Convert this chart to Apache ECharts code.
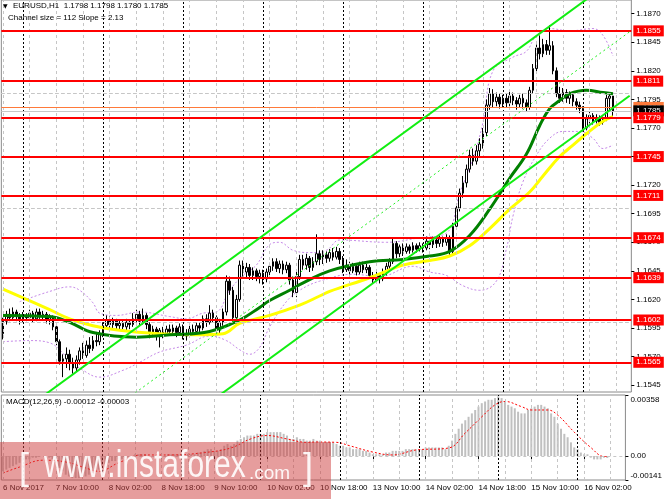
<!DOCTYPE html>
<html><head><meta charset="utf-8">
<script src="https://cdn.jsdelivr.net/npm/echarts@6/dist/echarts.min.js"></script>
<style>html,body{margin:0;padding:0;background:#fff}#c{width:665px;height:499px}</style>
</head><body><div id="c"></div><script>
// ---- data ----
// candles: [open, close, low, high], one per H1 bar, index 0 = 6 Nov 18:00
const candles = [
[1.1590,1.1601,1.1585,1.1604],[1.1601,1.1607,1.1598,1.1610],[1.1607,1.1604,1.1601,1.1612],[1.1604,1.1609,1.1602,1.1613],
[1.1609,1.1605,1.1601,1.1611],[1.1605,1.1603,1.1598,1.1608],[1.1603,1.1606,1.1600,1.1609],[1.1606,1.1604,1.1601,1.1608],
[1.1604,1.1608,1.1602,1.1611],[1.1608,1.1603,1.1600,1.1610],[1.1603,1.1609,1.1601,1.1612],[1.1609,1.1606,1.1603,1.1612],
[1.1606,1.1607,1.1602,1.1610],[1.1607,1.1602,1.1599,1.1609],[1.1602,1.1604,1.1598,1.1607],[1.1604,1.1596,1.1593,1.1606],
[1.1596,1.1583,1.1580,1.1599],[1.1583,1.1566,1.1563,1.1585],[1.1566,1.1568,1.1552,1.1572],[1.1568,1.1572,1.1560,1.1578],
[1.1572,1.1564,1.1558,1.1576],[1.1564,1.1560,1.1555,1.1569],[1.1560,1.1567,1.1557,1.1571],[1.1567,1.1575,1.1563,1.1578],
[1.1575,1.1571,1.1568,1.1582],[1.1571,1.1580,1.1569,1.1584],[1.1580,1.1577,1.1573,1.1587],[1.1577,1.1584,1.1575,1.1588],
[1.1584,1.1583,1.1579,1.1590],[1.1583,1.1590,1.1580,1.1593],[1.1590,1.1597,1.1587,1.1600],[1.1597,1.1602,1.1594,1.1606],
[1.1602,1.1598,1.1594,1.1605],[1.1598,1.1601,1.1595,1.1604],[1.1601,1.1597,1.1593,1.1603],[1.1597,1.1599,1.1594,1.1602],
[1.1599,1.1596,1.1592,1.1601],[1.1596,1.1600,1.1593,1.1603],[1.1600,1.1598,1.1594,1.1602],[1.1598,1.1603,1.1596,1.1608],
[1.1603,1.1607,1.1599,1.1611],[1.1607,1.1601,1.1597,1.1610],[1.1601,1.1606,1.1598,1.1612],[1.1606,1.1598,1.1594,1.1608],
[1.1598,1.1590,1.1586,1.1600],[1.1590,1.1594,1.1587,1.1597],[1.1594,1.1589,1.1584,1.1596],[1.1589,1.1593,1.1578,1.1595],
[1.1593,1.1590,1.1586,1.1596],[1.1590,1.1594,1.1588,1.1597],[1.1594,1.1592,1.1588,1.1598],[1.1592,1.1595,1.1589,1.1598],
[1.1595,1.1591,1.1587,1.1597],[1.1591,1.1596,1.1589,1.1599],[1.1596,1.1588,1.1585,1.1598],[1.1588,1.1590,1.1584,1.1594],
[1.1590,1.1594,1.1587,1.1597],[1.1594,1.1592,1.1588,1.1598],[1.1592,1.1597,1.1590,1.1600],[1.1597,1.1595,1.1590,1.1600],
[1.1595,1.1603,1.1593,1.1606],[1.1603,1.1600,1.1596,1.1607],[1.1600,1.1608,1.1598,1.1615],[1.1608,1.1604,1.1600,1.1611],
[1.1604,1.1594,1.1591,1.1606],[1.1594,1.1600,1.1590,1.1603],[1.1600,1.1609,1.1597,1.1612],[1.1609,1.1636,1.1606,1.1641],
[1.1636,1.1628,1.1624,1.1640],[1.1628,1.1604,1.1600,1.1631],[1.1604,1.1620,1.1599,1.1624],[1.1620,1.1650,1.1618,1.1654],
[1.1650,1.1644,1.1640,1.1654],[1.1644,1.1648,1.1639,1.1652],[1.1648,1.1641,1.1637,1.1651],[1.1641,1.1645,1.1637,1.1648],
[1.1645,1.1640,1.1636,1.1647],[1.1640,1.1643,1.1634,1.1646],[1.1643,1.1638,1.1633,1.1646],[1.1638,1.1644,1.1635,1.1647],
[1.1644,1.1649,1.1641,1.1652],[1.1649,1.1653,1.1645,1.1656],[1.1653,1.1647,1.1644,1.1656],[1.1647,1.1651,1.1643,1.1654],
[1.1651,1.1646,1.1642,1.1654],[1.1646,1.1650,1.1643,1.1653],[1.1650,1.1637,1.1633,1.1652],[1.1637,1.1626,1.1622,1.1640],
[1.1626,1.1640,1.1622,1.1644],[1.1640,1.1655,1.1637,1.1659],[1.1655,1.1650,1.1646,1.1659],[1.1650,1.1656,1.1646,1.1660],
[1.1656,1.1648,1.1644,1.1658],[1.1648,1.1653,1.1645,1.1657],[1.1653,1.1660,1.1650,1.1677],[1.1660,1.1655,1.1650,1.1663],
[1.1655,1.1659,1.1651,1.1663],[1.1659,1.1656,1.1652,1.1662],[1.1656,1.1661,1.1653,1.1664],[1.1661,1.1657,1.1654,1.1665],
[1.1657,1.1662,1.1655,1.1666],[1.1662,1.1655,1.1651,1.1665],[1.1655,1.1646,1.1643,1.1658],[1.1646,1.1650,1.1644,1.1655],
[1.1650,1.1645,1.1642,1.1653],[1.1645,1.1649,1.1643,1.1652],[1.1649,1.1644,1.1641,1.1651],[1.1644,1.1650,1.1642,1.1653],
[1.1650,1.1646,1.1643,1.1653],[1.1646,1.1648,1.1643,1.1651],[1.1648,1.1641,1.1638,1.1650],[1.1641,1.1637,1.1634,1.1644],
[1.1637,1.1641,1.1635,1.1645],[1.1641,1.1638,1.1634,1.1643],[1.1638,1.1644,1.1636,1.1647],[1.1644,1.1649,1.1641,1.1652],
[1.1649,1.1653,1.1646,1.1656],[1.1653,1.1669,1.1651,1.1674],[1.1669,1.1660,1.1656,1.1671],[1.1660,1.1666,1.1657,1.1668],
[1.1666,1.1662,1.1658,1.1669],[1.1662,1.1666,1.1660,1.1669],[1.1666,1.1663,1.1660,1.1668],[1.1663,1.1667,1.1661,1.1670],
[1.1667,1.1664,1.1661,1.1669],[1.1664,1.1667,1.1662,1.1670],[1.1667,1.1665,1.1661,1.1669],[1.1665,1.1671,1.1663,1.1675],
[1.1671,1.1668,1.1664,1.1674],[1.1668,1.1672,1.1665,1.1675],[1.1672,1.1669,1.1665,1.1674],[1.1669,1.1673,1.1666,1.1676],
[1.1673,1.1670,1.1666,1.1675],[1.1670,1.1674,1.1667,1.1677],[1.1674,1.1662,1.1659,1.1676],[1.1662,1.1684,1.1660,1.1687],
[1.1684,1.1700,1.1681,1.1703],[1.1700,1.1713,1.1697,1.1717],[1.1713,1.1722,1.1709,1.1728],[1.1722,1.1734,1.1718,1.1738],
[1.1734,1.1746,1.1731,1.1751],[1.1746,1.1741,1.1737,1.1752],[1.1741,1.1750,1.1738,1.1755],[1.1750,1.1756,1.1745,1.1761],
[1.1756,1.1766,1.1752,1.1770],[1.1766,1.1790,1.1763,1.1795],[1.1790,1.1800,1.1786,1.1805],[1.1800,1.1793,1.1788,1.1804],
[1.1793,1.1797,1.1789,1.1801],[1.1797,1.1791,1.1787,1.1800],[1.1791,1.1796,1.1788,1.1799],[1.1796,1.1792,1.1788,1.1800],
[1.1792,1.1798,1.1789,1.1802],[1.1798,1.1794,1.1790,1.1801],[1.1794,1.1791,1.1786,1.1797],[1.1791,1.1796,1.1788,1.1799],
[1.1796,1.1792,1.1787,1.1800],[1.1792,1.1788,1.1784,1.1795],[1.1788,1.1803,1.1786,1.1806],[1.1803,1.1822,1.1800,1.1826],
[1.1822,1.1840,1.1818,1.1843],[1.1840,1.1835,1.1830,1.1851],[1.1835,1.1843,1.1832,1.1848],[1.1843,1.1838,1.1834,1.1847],
[1.1838,1.1842,1.1834,1.1860],[1.1842,1.1820,1.1817,1.1846],[1.1820,1.1800,1.1797,1.1823],[1.1800,1.1796,1.1792,1.1806],
[1.1796,1.1801,1.1793,1.1805],[1.1801,1.1796,1.1792,1.1804],[1.1796,1.1799,1.1791,1.1802],[1.1799,1.1793,1.1789,1.1801],
[1.1793,1.1790,1.1786,1.1796],[1.1790,1.1787,1.1783,1.1793],[1.1787,1.1770,1.1767,1.1789],[1.1770,1.1778,1.1768,1.1782],
[1.1778,1.1781,1.1774,1.1784],[1.1781,1.1776,1.1773,1.1783],[1.1776,1.1779,1.1774,1.1782],[1.1779,1.1775,1.1772,1.1781],
[1.1775,1.1778,1.1773,1.1780],[1.1778,1.1796,1.1776,1.1799],[1.1796,1.1798,1.1784,1.1800],[1.1798,1.1785,1.1780,1.1798]
];
// moving averages, sparse readings [barIndex, price]
const maGreen = [[0,1.1606],[14,1.1605],[20,1.1600],[27,1.1591],[40,1.1587],[50,1.1589],[62,1.1592],[71,1.1602],[77,1.1613],[80,1.1619],[86,1.1628],[89,1.1633],[98,1.1645],[110,1.1653],[120,1.1655],[128,1.1658],[134,1.1662],[140,1.1676],[146,1.1699],[152,1.1726],[157,1.1747],[161,1.1772],[164,1.1787],[167,1.1794],[170,1.1800],[175,1.1803],[180,1.1801],[183,1.1800]];
const maYellow = [[0,1.1629],[14,1.1611],[20,1.1603],[27,1.1597],[35,1.1593],[47,1.1590],[58,1.1589],[66,1.1590],[71,1.1599],[80,1.1606],[89,1.1615],[95,1.1623],[98,1.1627],[110,1.1639],[120,1.1650],[128,1.1654],[134,1.1658],[140,1.1667],[146,1.1682],[152,1.1699],[158,1.1714],[162,1.1728],[167,1.1745],[171,1.1755],[175,1.1765],[180,1.1776],[183,1.1780]];
// bands (violet dotted), sparse readings
const bandUpper = [[5,1.1618],[14,1.1627],[20,1.1631],[23,1.1628],[27,1.1617],[29,1.1608],[34,1.1606],[41,1.1609],[50,1.1605],[55,1.1603],[60,1.1608],[64,1.1609],[68,1.1628],[72,1.1641],[76,1.1650],[80,1.1668],[83,1.1670],[87,1.1663],[92,1.1661],[97,1.1663],[101,1.1672],[115,1.1670],[125,1.1674],[133,1.1678],[137,1.1713],[141,1.1743],[144,1.1775],[147,1.1820],[153,1.1832],[157,1.1837],[160,1.1851],[164,1.1857],[170,1.1855],[177,1.1857],[180,1.1851],[183,1.1833]];
const bandLower = [[0,1.1583],[8,1.1584],[14,1.1582],[20,1.1567],[24,1.1558],[29,1.1552],[36,1.1558],[41,1.1565],[47,1.1574],[55,1.1580],[62,1.1588],[67,1.1584],[71,1.1576],[74,1.1572],[77,1.1578],[80,1.1596],[85,1.1618],[89,1.1628],[95,1.1636],[105,1.1642],[113,1.1640],[123,1.1649],[128,1.1644],[133,1.1641],[138,1.1632],[143,1.1628],[148,1.1636],[151,1.1664],[153,1.1693],[156,1.1723],[160,1.1746],[164,1.1761],[168,1.1767],[173,1.1767],[177,1.1761],[180,1.1752],[183,1.1755]];
// regression channel (endpoints, price)
const channelUpper = [[10,1.15311],[176,1.18846]];
const channelMid = [[36,1.15304],[188,1.18542]];
const channelLower = [[60,1.15256],[188,1.17982]];
// horizontal levels
const levels = [1.1855, 1.1811, 1.1779, 1.1745, 1.1711, 1.1674, 1.1639, 1.1602, 1.1565];
const orangeLevel = 1.1788;
const bidLevel = 1.1785;
// MACD histogram (one per bar) and signal (sparse)
const macdHist = [
-0.0009,-0.0008,-0.0007,-0.0006,-0.0005,-0.0004,
-0.0003,-0.0002,-0.0002,-0.0001,-0.0001,0.0000,0.0000,-0.0001,-0.0001,
-0.0002,-0.0004,-0.0007,-0.0009,-0.0011,-0.0012,-0.0013,-0.0013,
-0.0013,-0.0012,-0.0012,-0.0011,-0.0010,-0.0009,-0.0008,-0.0006,
-0.0005,-0.0004,-0.0003,-0.0003,-0.0002,-0.0002,-0.0001,-0.0001,0.0000,0.0001,
0.0001,0.0001,0.0001,0.0000,0.0000,-0.0001,0.0000,0.0000,0.0000,0.0001,0.0001,0.0001,0.0001,0.0000,0.0000,0.0001,0.0001,0.0001,0.0002,
0.0002,0.0003,0.0004,0.0004,0.0003,0.0003,0.0004,0.0006,0.0007,0.0006,0.0007,
0.0009,0.0010,0.0011,0.0012,0.0012,0.0012,0.0013,0.0013,0.0013,0.0014,0.0014,0.0014,
0.0014,0.0014,0.0013,0.0012,0.0010,0.0010,0.0011,
0.0010,0.0010,0.0009,0.0009,0.0010,0.0009,0.0009,0.0008,0.0008,
0.0008,0.0008,0.0007,0.0006,0.0006,0.0005,
0.0005,0.0004,0.0004,0.0004,0.0003,0.0003,0.0002,
0.0001,0.0001,0.0001,0.0001,0.0002,0.0002,
0.0003,0.0003,0.0003,0.0003,0.0004,0.0004,0.0004,0.0004,
0.0004,0.0004,0.0005,0.0005,0.0005,0.0005,0.0005,0.0005,0.0004,
0.0006,0.0009,0.0013,0.0016,0.0019,0.0021,0.0023,0.0025,0.0027,0.0029,0.0031,0.0032,
0.0033,0.0033,0.0034,0.0035,0.0034,0.0032,0.0030,
0.0029,0.0028,0.0026,0.0025,0.0025,0.0027,0.0028,
0.0029,0.0030,0.0030,0.0029,0.0028,0.0025,
0.0023,0.0019,0.0016,0.0013,0.0011,0.0008,0.0005,0.0004,0.0002,
0.0001,0.0001,-0.0001,-0.0002,-0.0002,-0.0002,-0.0001,-0.00012
];
const macdSignal = [[0,-0.0010],[5,-0.00065],[12,-0.00025],[19,-0.00035],[25,-0.0007],[29,-0.0009],[35,-0.0004],[42,0.00006],[51,0.00006],[61,0.0002],[69,0.00047],[75,0.0010],[80,0.0012],[86,0.0010],[92,0.0008],[95,0.00082],[101,0.0008],[105,0.0006],[112,0.00023],[118,0.00006],[125,0.00035],[135,0.00047],[140,0.00135],[145,0.0023],[149,0.0030],[152,0.0032],[157,0.0029],[160,0.0027],[165,0.0027],[168,0.0024],[173,0.0014],[178,0.0005],[182,-0.00003],[183,-0.00003]];
// axes
const priceTicks = [1.1545,1.1570,1.1595,1.1620,1.1645,1.1670,1.1695,1.1720,1.1745,1.1770,1.1795,1.1820,1.1845,1.1870];
const macdTicks = [-0.00141, 0, 0.00358];
const xTickIdx = [0,16,32,48,64,80,96,112,128,144,160,176];
const xTickLabels = ['6 Nov 2017','7 Nov 10:00','8 Nov 02:00','8 Nov 18:00','9 Nov 10:00','10 Nov 02:00','10 Nov 18:00','13 Nov 10:00','14 Nov 02:00','14 Nov 18:00','15 Nov 10:00','16 Nov 02:00'];
const vGridIdx = [0,8,16,24,32,40,48,56,64,72,80,88,96,104,112,120,128,136,144,152,160,168,176,184];
const daySepIdx = [6,30,54,78,102,126,150,174];
const SLOTS = 189;

// ---- chart ----
const cats = [];
for (let i = 0; i < SLOTS; i++) cats.push(String(i));
const FF = 'Liberation Sans, Arial, sans-serif';
const FS = 8;
const gridLineStyle = {color:'#c6c6c6', type:[3,3], width:1};
const sepStyle = {color:'#000000', type:[2,2], width:1};
const vLines = vGridIdx.map(i => ({xAxis: String(i), lineStyle: gridLineStyle}))
  .concat(daySepIdx.map(i => ({xAxis: String(i), lineStyle: sepStyle})));
const levelLabel = (bg) => ({show:true, position:'end', distance:2, formatter:p => p.value.toFixed(4),
  color:'#fff', backgroundColor:bg, padding:[2,3,1,3], fontSize:FS, fontFamily:FF});

const chart = echarts.init(document.getElementById('c'), null, {renderer:'canvas'});
chart.setOption({
  animation:false,
  backgroundColor:'#ffffff',
  grid:[
    {left:1.33, width:630, top:0, height:392, show:true, borderColor:'#8a8a8a', borderWidth:1},
    {left:1.33, width:630, top:395, height:85, show:true, borderColor:'#8a8a8a', borderWidth:1}
  ],
  xAxis:[
    {type:'category', gridIndex:0, data:cats, boundaryGap:true, axisLine:{show:false}, axisTick:{show:false}, axisLabel:{show:false}, splitLine:{show:false}},
    {type:'category', gridIndex:1, data:cats, boundaryGap:true, axisLine:{show:false},
     axisTick:{show:true, alignWithLabel:true, interval:(i)=>xTickIdx.indexOf(i)>=0, length:3, lineStyle:{color:'#000'}},
     axisLabel:{interval:(i)=>xTickIdx.indexOf(i)>=0, formatter:(v,i)=>xTickLabels[xTickIdx.indexOf(i)] || '', align:'left', margin:4, fontSize:FS, color:'#000', fontFamily:FF},
     splitLine:{show:false}}
  ],
  yAxis:[
    {type:'value', gridIndex:0, position:'right', min:1.1539, max:1.1882, scale:true,
     axisLine:{show:false}, axisTick:{show:true, customValues:priceTicks, length:3, lineStyle:{color:'#000'}},
     axisLabel:{customValues:priceTicks, formatter:v=>v.toFixed(4), margin:5, fontSize:FS, color:'#000', fontFamily:FF},
     splitLine:{show:false}},
    {type:'value', gridIndex:1, position:'right', min:-0.00141, max:0.00358,
     axisLine:{show:false}, axisTick:{show:true, customValues:macdTicks, length:3, lineStyle:{color:'#000'}},
     axisLabel:{customValues:macdTicks, margin:5, fontSize:FS, color:'#000', fontFamily:FF,
       formatter:v => v === 0 ? '{m|0.00}' : (v > 0 ? '{t|' + v.toFixed(5) + '}' : '{b|' + v.toFixed(5) + '}'),
       rich:{t:{padding:[10,0,0,0], fontSize:FS, fontFamily:FF, color:'#000'}, m:{fontSize:FS, fontFamily:FF, color:'#000'}, b:{padding:[0,0,8,0], fontSize:FS, fontFamily:FF, color:'#000'}}},
     splitLine:{show:false}}
  ],
  series:[
    {name:'bandUpper', type:'line', xAxisIndex:0, yAxisIndex:0, data:bandUpper, smooth:0.4, symbol:'none', z:1,
     lineStyle:{color:'#c68ae8', width:1, type:[2,2]},
     markLine:{silent:true, symbol:['none','none'], label:{show:false}, lineStyle:gridLineStyle,
       data: priceTicks.map(v => ({yAxis:v})).concat(vLines)}},
    {name:'bandLower', type:'line', xAxisIndex:0, yAxisIndex:0, data:bandLower, smooth:0.4, symbol:'none', z:1,
     lineStyle:{color:'#c68ae8', width:1, type:[2,2]}},
    {name:'EURUSD', type:'candlestick', xAxisIndex:0, yAxisIndex:0, data:candles, barWidth:2, z:3,
     itemStyle:{color:'#ffffff', color0:'#000000', borderColor:'#000000', borderColor0:'#000000', borderWidth:1}},
    {name:'maYellow', type:'line', xAxisIndex:0, yAxisIndex:0, data:maYellow, smooth:0.4, symbol:'none', z:4,
     lineStyle:{color:'#ffff00', width:3}},
    {name:'maGreen', type:'line', xAxisIndex:0, yAxisIndex:0, data:maGreen, smooth:0.4, symbol:'none', z:4,
     lineStyle:{color:'#008000', width:3}},
    {name:'chUpper', type:'line', xAxisIndex:0, yAxisIndex:0, data:channelUpper, symbol:'none', z:5,
     lineStyle:{color:'#11ee11', width:2}},
    {name:'chLower', type:'line', xAxisIndex:0, yAxisIndex:0, data:channelLower, symbol:'none', z:5,
     lineStyle:{color:'#11ee11', width:2}},
    {name:'chMid', type:'line', xAxisIndex:0, yAxisIndex:0, data:channelMid, symbol:'none', z:6,
     lineStyle:{color:'#22ee22', width:1, type:[2,3]},
     markLine:{silent:true, symbol:['none','none'], precision:4,
       data: [
           {yAxis:orangeLevel, lineStyle:{color:'#ff7a3a', width:1, type:'solid'}, label:levelLabel('#ff7a3a')},
           {yAxis:bidLevel, lineStyle:{color:'#c8c8c8', width:1, type:'solid'}, label:levelLabel('#000000')}
         ].concat(levels.map(v => ({yAxis:v, lineStyle:{color:'#ff0000', width:2, type:'solid'}, label:levelLabel('#ff0000')})))}},
    {name:'MACD', type:'bar', xAxisIndex:1, yAxisIndex:1, data:macdHist, barWidth:2, z:2,
     itemStyle:{color:'#c0c0c0'},
     markLine:{silent:true, symbol:['none','none'], label:{show:false}, lineStyle:gridLineStyle,
       data: vLines.concat([{yAxis:0, lineStyle:gridLineStyle}])}},
    {name:'Signal', type:'line', xAxisIndex:1, yAxisIndex:1, data:macdSignal, smooth:0.4, symbol:'none', z:3,
     lineStyle:{color:'#ff0000', width:1, type:[2,2]}}
  ],
  graphic:[
    {type:'text', x:3, y:6, z:50, style:{text:'▼', fontSize:6, fill:'#000', fontFamily:'DejaVu Sans', verticalAlign:'middle'}},
    {type:'text', x:13, y:6, z:50, style:{text:'EURUSD,H1  1.1798 1.1798 1.1780 1.1785', fontSize:FS, fill:'#000', fontFamily:FF, verticalAlign:'middle'}},
    {type:'text', x:8, y:17.5, z:50, style:{text:'Channel size = 112 Slope = 2.13', fontSize:FS, fill:'#000', fontFamily:FF, verticalAlign:'middle'}},
    {type:'text', x:6, y:401.5, z:50, style:{text:'MACD(12,26,9) -0.00012 -0.00003', fontSize:FS, fill:'#000', fontFamily:FF, verticalAlign:'middle'}},
    {type:'rect', z:100, shape:{x:0, y:442, width:331, height:57}, style:{fill:'rgba(205,60,60,0.5)'}},
    {type:'text', z:101, x:19, y:469, style:{text:'[', fontSize:36, fill:'rgba(255,255,255,0.9)', fontFamily:FF, verticalAlign:'middle'}},
    {type:'text', z:101, x:44, y:466, scaleY:1.3, style:{text:'www.instaforex', fontSize:30, fill:'rgba(255,255,255,0.9)', fontFamily:FF, verticalAlign:'middle'}},
    {type:'text', z:101, x:249, y:473.5, style:{text:'.com', fontSize:19, fill:'rgba(255,255,255,0.9)', fontFamily:FF, verticalAlign:'middle'}},
    {type:'text', z:101, x:303, y:469, style:{text:']', fontSize:36, fill:'rgba(255,255,255,0.9)', fontFamily:FF, verticalAlign:'middle'}}
  ]
});
</script></body></html>
